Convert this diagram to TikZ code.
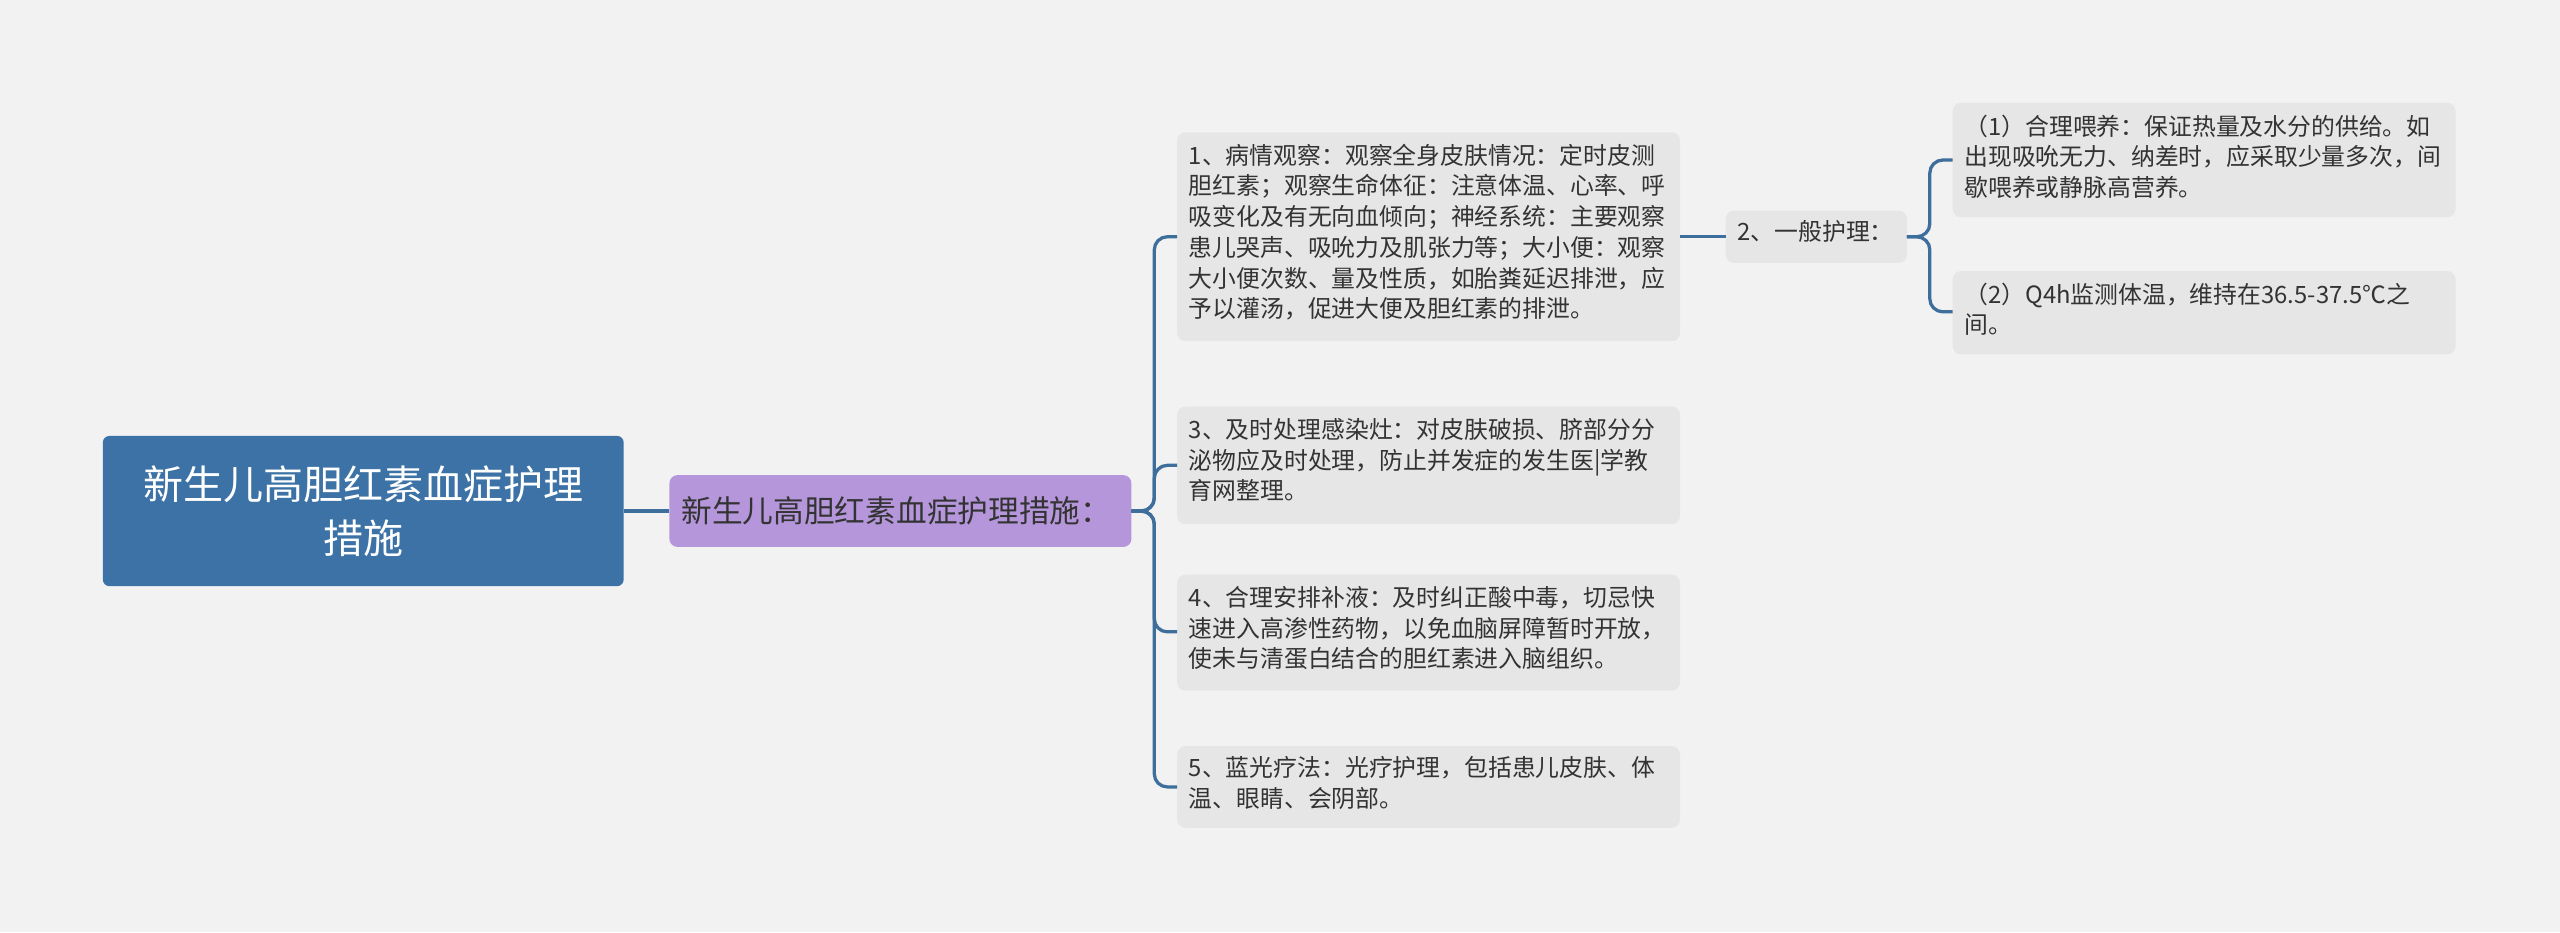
\documentclass[tikz,border=0pt]{standalone}
\usepackage{fontspec}
\setmainfont{Noto Sans CJK SC}
\begin{document}
\begin{tikzpicture}[x=1pt,y=-1pt,
  leaf/.style={fill=leafc,rounded corners=5pt,anchor=north west,align=left,inner sep=0pt,font=\fontsize{14.6}{18.8}\selectfont,text=txt},
  edge/.style={draw=edgec,line width=2pt,rounded corners=8pt}]
\definecolor{bg}{HTML}{F2F2F2}
\definecolor{leafc}{HTML}{E6E6E6}
\definecolor{edgec}{HTML}{3D6E9C}
\definecolor{rootc}{HTML}{3C72A5}
\definecolor{midc}{HTML}{B596DA}
\definecolor{txt}{HTML}{333333}
\fill[bg] (0,0) rectangle (1568,571);
\useasboundingbox (0,0) rectangle (1568,571);
% boxes
\fill[rootc,rounded corners=4pt] (63,267) rectangle (382,359);
\node[text=white,align=center,font=\fontsize{24.5}{33}\selectfont] (root) at (222.5,313) {新生儿高胆红素血症护理\\措施};
\coordinate (rootE) at (382,313);
\fill[midc,rounded corners=5pt] (410,291) rectangle (693,335);
\node[text=txt,font=\fontsize{18.8}{22}\selectfont] (mid) at (549,313) {新生儿高胆红素血症护理措施：};
\coordinate (midW) at (410,313);
\coordinate (midE) at (693,313);
\foreach \n/\a/\b/\c/\d in {l1/721/81/1029/209, l3/721/249/1029/321, l4/721/352/1029/423, l5/721/457/1029/507, l2/1057/129/1168/161, s1/1196/63/1504/133, s2/1196/166/1504/217}
  \fill[leafc,rounded corners=5pt] (\a,\b) rectangle (\c,\d);
\node[leaf,fill=none] (t1) at (728,88) {1、病情观察：观察全身皮肤情况：定时皮测\\胆红素；观察生命体征：注意体温、心率、呼\\吸变化及有无向血倾向；神经系统：主要观察\\患儿哭声、吸吮力及肌张力等；大小便：观察\\大小便次数、量及性质，如胎粪延迟排泄，应\\予以灌汤，促进大便及胆红素的排泄。};
\node[leaf,fill=none] (t3) at (728,256) {3、及时处理感染灶：对皮肤破损、脐部分分\\泌物应及时处理，防止并发症的发生医|学教\\育网整理。};
\node[leaf,fill=none] (t4) at (728,359) {4、合理安排补液：及时纠正酸中毒，切忌快\\速进入高渗性药物，以免血脑屏障暂时开放，\\使未与清蛋白结合的胆红素进入脑组织。};
\node[leaf,fill=none] (t5) at (728,463) {5、蓝光疗法：光疗护理，包括患儿皮肤、体\\温、眼睛、会阴部。};
\node[leaf,fill=none] (t2) at (1064,135) {2、一般护理：};
\node[leaf,fill=none] (u1) at (1203,70) {（1）合理喂养：保证热量及水分的供给。如\\出现吸吮无力、纳差时，应采取少量多次，间\\歇喂养或静脉高营养。};
\node[leaf,fill=none] (u2) at (1203,173) {（2）Q4h监测体温，维持在36.5-37.5℃之\\间。};
\coordinate (l1W) at (721,145); \coordinate (l3W) at (721,285);
\coordinate (l4W) at (721,387); \coordinate (l5W) at (721,482);
\coordinate (l1E) at (1029,145); \coordinate (l2W) at (1057,145);
\coordinate (l2E) at (1168,145);
\coordinate (s1W) at (1196,98); \coordinate (s2W) at (1196,191);
% connectors
\draw[edge] (rootE) -- (midW);
\foreach \t in {l1W,l3W,l4W,l5W}
  \draw[edge] (midE) -- (707,313) |- (\t);
\draw[edge] (l1E) -- (l2W);
\foreach \t in {s1W,s2W}
  \draw[edge] (l2E) -- (1182,145) |- (\t);
\end{tikzpicture}
\end{document}
